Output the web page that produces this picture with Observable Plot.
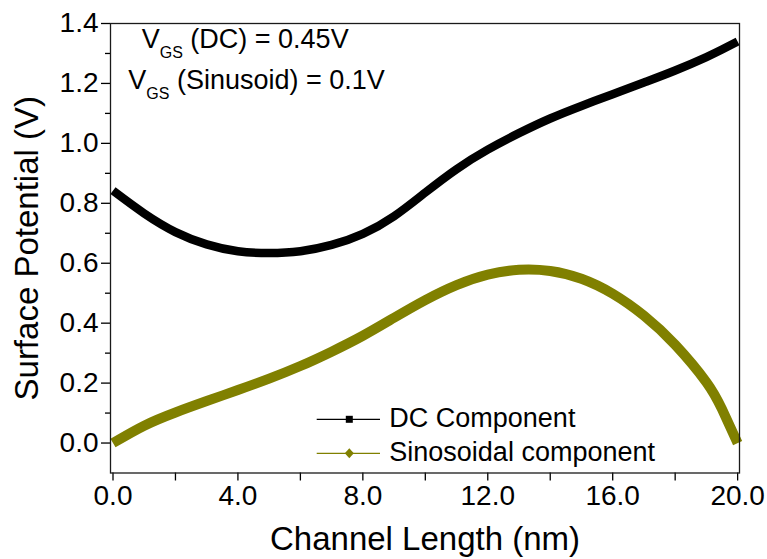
<!DOCTYPE html>
<html>
<head>
<meta charset="utf-8">
<script src="https://cdn.jsdelivr.net/npm/d3@7"></script>
<script src="https://cdn.jsdelivr.net/npm/@observablehq/plot@0.6"></script>
<style>
  body { margin: 0; background: #fff; }
  #chart { position: relative; width: 767px; height: 559px; font-family: "Liberation Sans", Arial, sans-serif; }
  #chart svg { position: absolute; left: 0; top: 0; }
</style>
</head>
<body>
<div id="chart"></div>
<script>
// Position along the channel (nm)
const channelLength = [0, 1, 2, 3, 4, 5, 6, 7, 8, 9, 10, 11, 12, 13, 14, 15, 16, 17, 18, 19, 19.5, 20];
// Surface potential (V) of each component
const dcComponent = [0.842, 0.766, 0.704, 0.663, 0.640, 0.634, 0.640, 0.661, 0.698, 0.757, 0.836, 0.914, 0.979, 1.034, 1.083, 1.125, 1.164, 1.203, 1.243, 1.288, 1.313, 1.340];
const sinusoidalComponent = [0.0, 0.058, 0.102, 0.140, 0.177, 0.215, 0.257, 0.305, 0.358, 0.418, 0.477, 0.527, 0.562, 0.578, 0.574, 0.548, 0.498, 0.425, 0.328, 0.203, 0.113, 0.0];

const seriesNames = ["DC Component", "Sinosoidal component"];
const seriesColors = ["#000000", "#808000"];
const seriesSymbols = ["square", "diamond"];

const xMajorTicks = [0, 4, 8, 12, 16, 20];
const xMinorTicks = [2, 6, 10, 14, 18];
const yMajorTicks = [0, 0.2, 0.4, 0.6, 0.8, 1.0, 1.2, 1.4];
const yMinorTicks = [0.1, 0.3, 0.5, 0.7, 0.9, 1.1, 1.3];

const xTitle = "Channel Length (nm)";
const yTitle = "Surface Potential (V)";
const biasNotes = [
  {symbol: "V", sub: "GS", rest: "(DC) = 0.45V"},
  {symbol: "V", sub: "GS", rest: "(Sinusoid) = 0.1V"}
];

const fontFamily = '"Liberation Sans", Arial, sans-serif';

const dcRows = channelLength.map((x, i) => ({x, v: dcComponent[i]}));
const sinRows = channelLength.map((x, i) => ({x, v: sinusoidalComponent[i]}));

const plot = Plot.plot({
  width: 767,
  height: 559,
  marginLeft: 110,
  marginRight: 28,
  marginTop: 23,
  marginBottom: 86.5,
  style: {fontFamily, fontSize: "28px", color: "#000", background: "transparent", overflow: "visible"},
  x: {domain: [-0.08, 20.06]},
  y: {domain: [-0.1, 1.4]},
  marks: [
    Plot.line(dcRows, {x: "x", y: "v", stroke: seriesColors[0], strokeWidth: 8.5, curve: "natural", strokeLinecap: "butt"}),
    Plot.line(sinRows, {x: "x", y: "v", stroke: seriesColors[1], strokeWidth: 10, curve: "natural", strokeLinecap: "butt"}),
    Plot.axisX(xMajorTicks, {tickFormat: d3.format(".1f"), tickSize: 8, tickPadding: 4, fontSize: 28, strokeWidth: 1.3, label: null}),
    Plot.axisX(xMinorTicks, {tickSize: 8, strokeWidth: 1.3, text: null, label: null}),
    Plot.axisY(yMajorTicks, {tickFormat: d3.format(".1f"), tickSize: 9, tickPadding: 3, fontSize: 28, strokeWidth: 1.3, label: null}),
    Plot.axisY(yMinorTicks, {tickSize: 5, strokeWidth: 1.3, text: null, label: null}),
    Plot.frame({stroke: "#1a1a1a", strokeWidth: 1.3}),
    Plot.text([xTitle], {text: d => d, frameAnchor: "bottom", textAnchor: "middle", lineAnchor: "bottom", dy: 76.5, fontSize: 33, fill: "#000"}),
    Plot.text([yTitle], {text: d => d, frameAnchor: "left", textAnchor: "middle", rotate: -90, lineAnchor: "bottom", dx: -73, fontSize: 33, fill: "#000"})
  ]
});

document.getElementById("chart").appendChild(plot);

// Overlay: bias annotation and legend inside the plotting area
const overlay = d3.select("#chart").append("svg")
  .attr("width", 767).attr("height", 559)
  .style("pointer-events", "none")
  .style("font-family", fontFamily);

const noteAnchors = [{x: 141.7, y: 48.3}, {x: 128.3, y: 89.3}];
biasNotes.forEach((n, i) => {
  const t = overlay.append("text")
    .attr("x", noteAnchors[i].x).attr("y", noteAnchors[i].y)
    .attr("font-size", 27).attr("fill", "#000");
  t.append("tspan").text(n.symbol);
  t.append("tspan").attr("font-size", 16).attr("dy", 10).text(n.sub);
  t.append("tspan").attr("dy", -10).text(" " + n.rest);
});

const legendX0 = 316.7, legendX1 = 380, legendMarkX = 349.3, legendTextX = 389.3;
const legendY = [419.3, 453.3];
seriesNames.forEach((name, i) => {
  const y = legendY[i];
  overlay.append("line")
    .attr("x1", legendX0).attr("x2", legendX1).attr("y1", y).attr("y2", y)
    .attr("stroke", seriesColors[i]).attr("stroke-width", 1.3);
  if (seriesSymbols[i] === "square") {
    overlay.append("rect")
      .attr("x", legendMarkX - 3.5).attr("y", y - 3.5).attr("width", 7).attr("height", 7)
      .attr("fill", seriesColors[i]);
  } else {
    overlay.append("path")
      .attr("d", `M${legendMarkX},${y - 5}L${legendMarkX + 4.5},${y}L${legendMarkX},${y + 5}L${legendMarkX - 4.5},${y}Z`)
      .attr("fill", seriesColors[i]);
  }
  overlay.append("text")
    .attr("x", legendTextX).attr("y", y + 8)
    .attr("font-size", 27).attr("fill", "#000")
    .text(name);
});
</script>
</body>
</html>
